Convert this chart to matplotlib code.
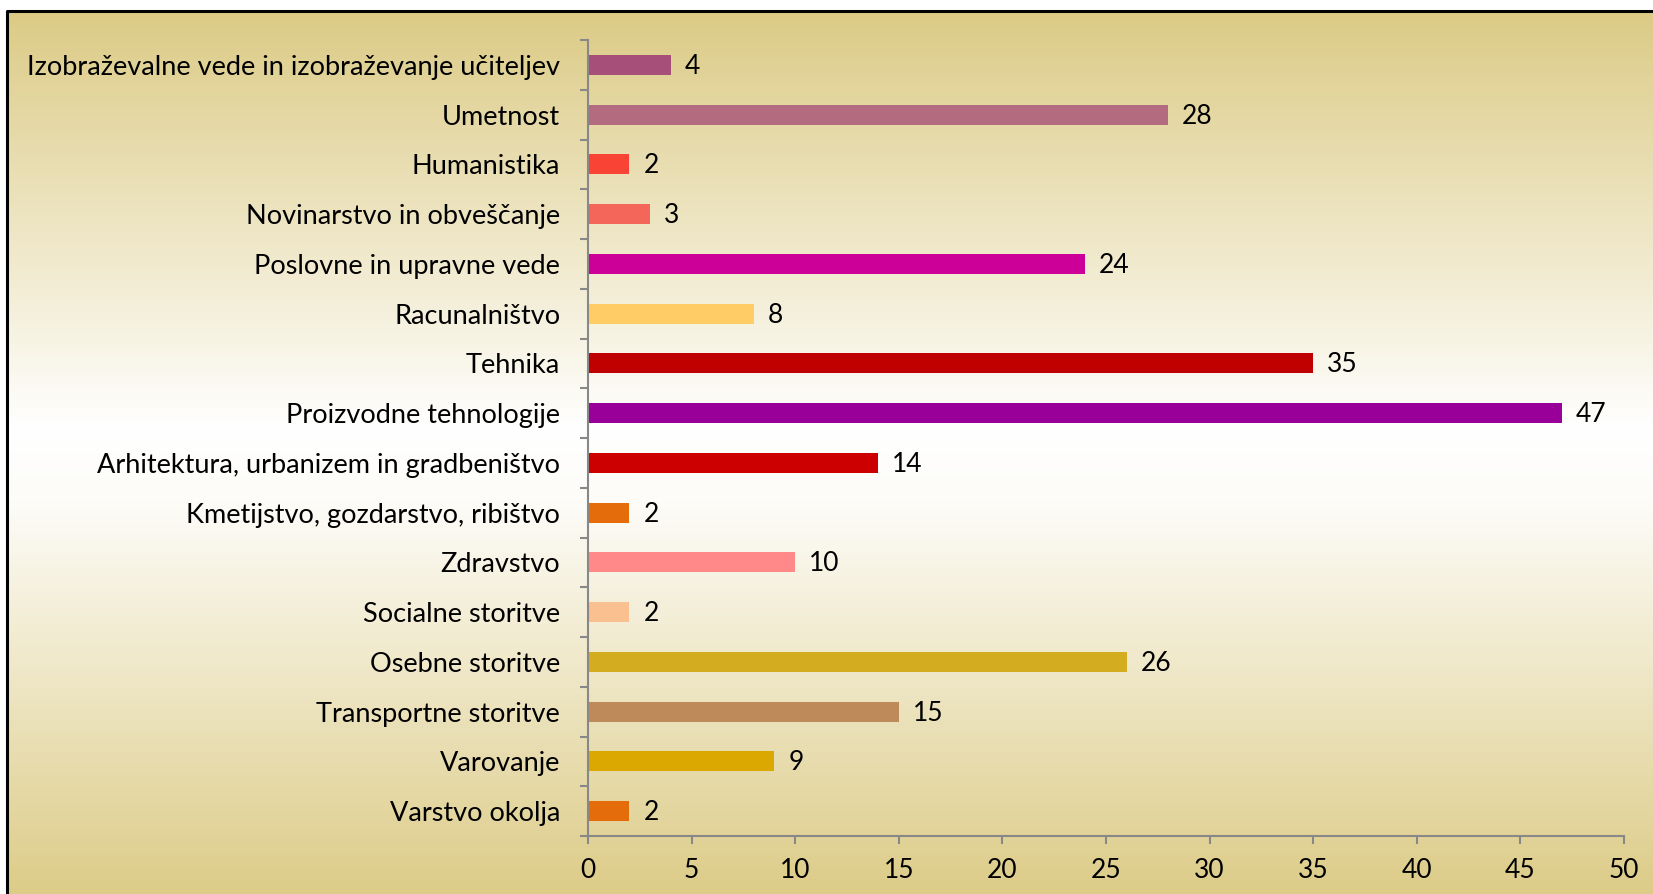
import numpy as np
import matplotlib
matplotlib.use("Agg")
import matplotlib.pyplot as plt
from matplotlib.colors import LinearSegmentedColormap

plt.rcParams['font.family'] = ['Lato', 'DejaVu Sans']

# data, top to bottom as in the chart
categories = ["Izobraževalne vede in izobraževanje učiteljev", "Umetnost", "Humanistika",
              "Novinarstvo in obveščanje", "Poslovne in upravne vede", "Racunalništvo",
              "Tehnika", "Proizvodne tehnologije", "Arhitektura, urbanizem in gradbeništvo",
              "Kmetijstvo, gozdarstvo, ribištvo", "Zdravstvo", "Socialne storitve",
              "Osebne storitve", "Transportne storitve", "Varovanje", "Varstvo okolja"]
values = [4, 28, 2, 3, 24, 8, 35, 47, 14, 2, 10, 2, 26, 15, 9, 2]
colors = ["#A64F78", "#B36B80", "#F84335", "#F4665A", "#CC0099", "#FFCC66",
          "#C00000", "#990099", "#CC0000", "#E46C0A", "#FF8888", "#FAC090",
          "#D4AC1F", "#BE8A5A", "#DAA800", "#E46C0A"]
xticks = [0, 5, 10, 15, 20, 25, 30, 35, 40, 45, 50]

W, H = 1653, 894
fig = plt.figure(figsize=(W / 100, H / 100), dpi=100)

# background gradient (tan - white - tan) inside the frame
bg = fig.add_axes([0, 0, 1, 1], zorder=0)
cmap = LinearSegmentedColormap.from_list("bg", [(0, "#DCCB86"), (0.47, "#FFFFFF"), (0.55, "#FDFCF8"), (1, "#DCCB86")])
grad = np.linspace(0, 1, 400).reshape(-1, 1)
bg.imshow(grad, cmap=cmap, aspect="auto", extent=[7, W + 10, H + 10, 11])
bg.plot([7, 7, W + 10], [H + 10, 11, 11], color="black", lw=2.2)
bg.set_xlim(0, W)
bg.set_ylim(H, 0)
bg.axis("off")

ax = fig.add_axes([588 / W, 1 - 836 / H, (1624 - 588) / W, (836 - 40) / H], zorder=1)
ax.patch.set_visible(False)

n = len(categories)
ypos = np.arange(n)[::-1]
ax.barh(ypos, values, height=0.4, color=colors)
for y, v in zip(ypos, values):
    ax.annotate(str(v), (v, y), xytext=(10, -1), textcoords="offset points",
                va="center", ha="left", fontsize=19)

ax.set_xlim(0, 50)
ax.set_ylim(-0.5, n - 0.5)
ax.set_xticks(xticks)
ax.set_yticks(ypos)
ax.set_yticklabels(categories)
ax.set_yticks(np.arange(n + 1) - 0.5, minor=True)
ax.tick_params(axis="y", which="major", length=0, pad=20, labelsize=19.5)
ax.tick_params(axis="y", which="minor", length=6, width=1.5, color="#888888", direction="out")
ax.tick_params(axis="x", length=6, width=1.5, color="#888888", direction="out", pad=10, labelsize=19)

for s in ["top", "right"]:
    ax.spines[s].set_visible(False)
for s in ["left", "bottom"]:
    ax.spines[s].set_color("#888888")
    ax.spines[s].set_linewidth(1.5)

fig.savefig("out.png", dpi=100)
